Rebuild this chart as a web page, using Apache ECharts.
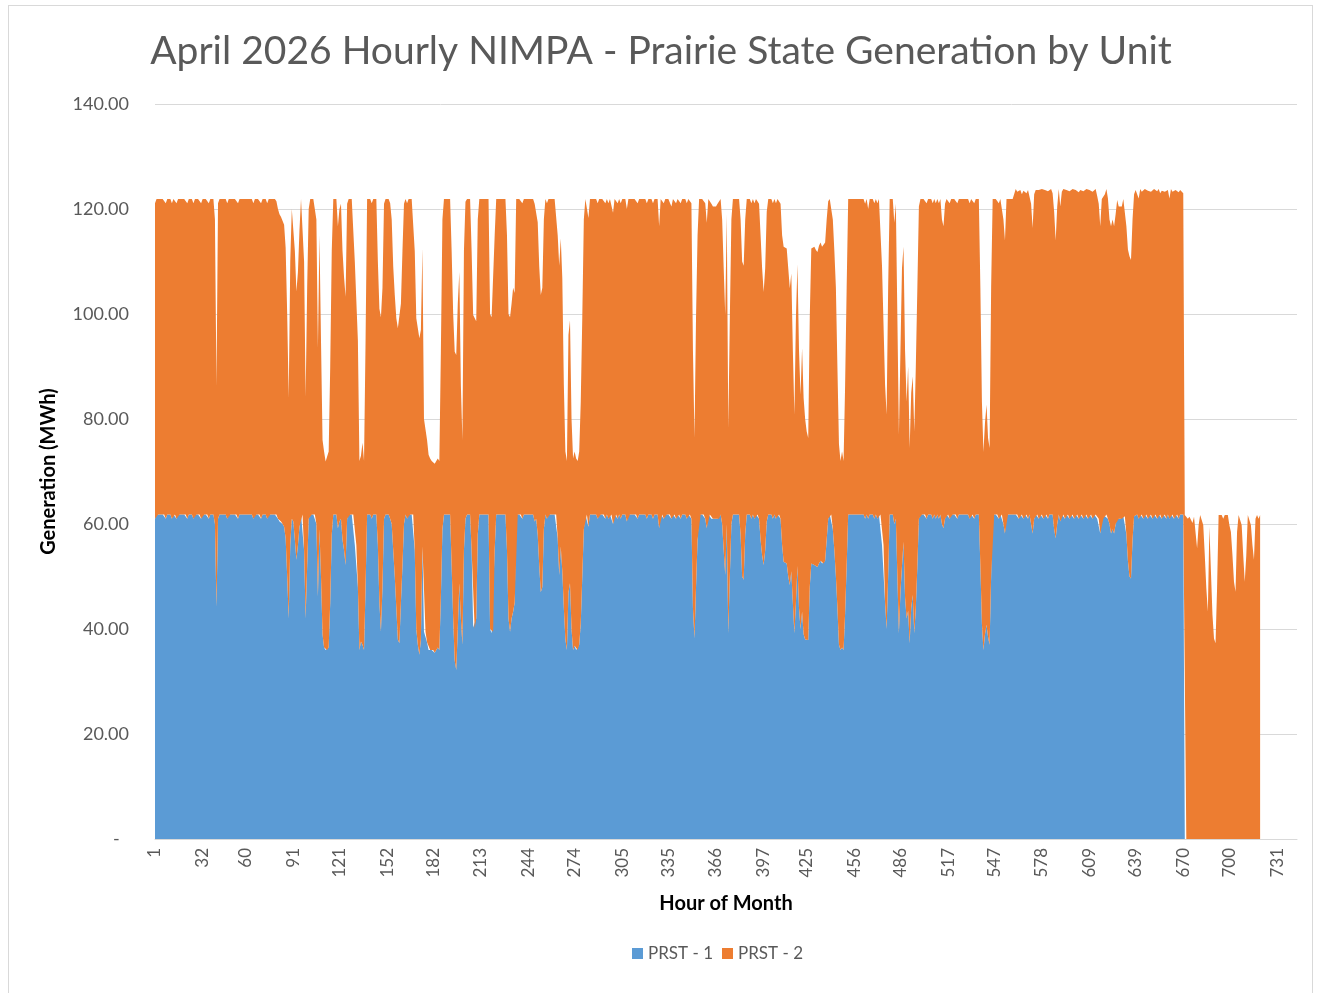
<!DOCTYPE html>
<html>
<head>
<meta charset="utf-8">
<title>April 2026 Hourly NIMPA - Prairie State Generation by Unit</title>
<script src="https://cdn.jsdelivr.net/npm/echarts/dist/echarts.min.js"></script>
<style>
html,body{margin:0;padding:0;background:#fff;}
#frame{position:absolute;left:8px;top:5px;width:1305px;height:995px;border:1px solid #d9d9d9;box-sizing:border-box;}
#main{position:absolute;left:0;top:0;width:1322px;height:993px;}
</style>
</head>
<body>
<div id="frame"></div>
<div id="main"></div>
<script>
// hourly generation, one row per day (24 h), hours 1-720
var prst1 = [
61.0,61.8,61.8,61.8,61.8,61.8,61.8,61.0,61.8,61.8,61.8,61.0,61.8,61.8,61.0,61.8,61.8,61.8,61.8,61.8,61.8,61.0,61.8,61.8,
61.8,61.0,61.8,61.8,61.8,61.8,61.0,61.8,61.8,61.8,61.8,61.0,61.8,61.8,61.8,60.0,44.2,61.0,61.8,61.8,61.8,61.8,61.8,61.0,
61.8,61.8,61.8,61.8,61.8,61.8,61.0,61.8,61.8,61.8,61.8,61.8,61.8,61.8,61.8,61.8,61.0,61.8,61.8,61.8,61.8,61.0,61.8,61.8,
61.8,61.0,61.8,61.8,61.8,61.8,61.8,61.8,61.0,60.5,60.5,60.0,59.5,57.3,50.0,42.0,56.0,61.0,60.5,57.0,53.2,56.0,59.5,61.8,
61.8,55.0,42.0,52.0,61.0,61.8,61.8,61.8,61.8,60.0,46.2,59.0,50.0,39.0,36.5,36.0,36.0,36.5,45.0,58.0,61.8,61.8,61.8,59.2,
60.5,61.0,57.0,55.0,52.2,61.0,61.8,61.8,61.8,61.8,56.0,56.0,48.0,36.0,37.6,37.0,36.0,48.0,61.8,61.8,61.8,61.0,61.8,61.8,
61.8,56.0,45.0,39.5,48.0,61.0,61.8,61.8,61.8,61.0,60.0,55.0,50.0,44.0,38.0,37.3,45.0,52.0,60.0,61.8,61.0,61.8,61.8,61.8,
61.8,55.0,40.0,37.0,35.1,38.0,55.7,39.5,39.5,37.5,36.0,36.0,36.0,36.0,35.5,36.0,36.5,36.0,46.0,59.0,61.8,61.8,61.8,61.8,
61.8,52.0,42.0,34.0,32.2,40.0,48.7,42.0,37.0,55.0,61.0,61.8,61.8,61.8,55.0,40.3,40.0,42.0,58.0,61.8,61.8,61.8,61.8,61.8,
61.8,61.8,40.0,39.2,39.5,55.0,61.8,61.8,61.8,61.8,61.8,61.8,61.8,55.0,42.0,39.5,42.0,43.3,45.0,61.8,61.8,61.8,61.8,61.0,
61.8,61.8,61.8,61.8,61.8,61.8,61.8,60.5,61.0,58.0,52.0,47.0,48.0,59.0,61.8,61.0,61.8,61.8,61.8,61.8,61.8,61.8,57.3,50.3,
55.7,51.0,44.0,38.0,36.0,47.0,48.7,40.0,36.0,36.8,36.0,36.0,37.0,41.0,50.0,59.0,61.8,61.8,59.5,61.8,61.8,61.8,61.8,61.8,
61.0,61.8,61.8,61.8,61.8,61.0,61.8,61.0,61.8,61.8,60.0,61.8,61.8,61.0,61.8,61.0,61.8,61.8,61.8,60.5,61.8,61.8,61.8,61.8,
61.8,61.8,61.0,61.8,61.8,61.8,61.8,61.8,61.0,61.8,61.8,61.8,61.0,61.8,61.8,61.8,59.2,61.8,61.8,61.0,61.8,61.8,61.8,61.8,
61.0,61.8,61.8,61.0,61.8,61.8,61.0,61.8,61.8,61.8,61.0,61.8,61.8,61.0,44.0,38.2,48.0,57.0,61.8,61.8,61.8,61.8,61.0,59.2,
61.8,61.8,61.0,61.0,61.0,61.0,61.0,61.0,61.8,60.0,55.0,50.3,60.0,39.2,50.0,60.0,61.8,61.8,61.8,61.8,61.8,58.0,50.0,49.4,
58.0,61.8,61.8,61.8,61.0,61.8,61.0,61.8,61.8,61.0,57.0,54.0,52.2,55.0,60.5,61.8,61.8,61.8,61.0,61.8,61.0,61.8,61.8,61.0,
56.0,52.8,52.8,52.5,50.0,48.4,51.0,45.0,39.2,45.0,52.0,44.0,40.0,43.3,39.0,38.0,38.0,37.9,48.0,52.5,52.5,52.2,52.0,51.8,
52.5,53.0,52.5,52.5,53.0,57.0,61.0,61.8,61.8,59.0,55.0,50.0,44.0,37.0,36.0,36.5,36.0,43.0,52.0,61.8,61.8,61.8,61.8,61.8,
61.8,61.8,61.8,61.8,61.8,61.8,61.0,61.8,61.0,61.8,61.8,61.8,61.0,61.8,61.0,61.8,61.8,56.0,56.0,45.0,40.0,50.0,61.8,61.8,
61.8,60.0,61.0,50.0,39.2,47.0,52.0,56.6,46.0,42.0,43.5,37.3,44.0,46.5,39.2,44.0,52.0,61.0,61.8,61.8,61.8,61.8,61.0,61.8,
61.8,61.8,61.0,61.8,61.0,61.8,61.0,61.8,60.0,59.2,61.0,61.8,61.8,61.0,61.8,61.8,61.8,61.8,61.0,61.8,61.8,61.8,61.8,61.8,
61.8,61.8,61.0,61.8,61.8,61.0,61.8,61.8,61.8,52.0,41.0,36.0,39.0,40.8,38.5,37.0,50.0,61.8,61.8,61.8,61.8,61.0,61.8,61.8,
60.0,58.2,61.8,61.8,61.8,61.8,61.8,61.8,61.8,61.8,61.0,61.8,61.8,61.0,61.8,61.8,61.0,61.8,60.0,58.2,61.0,61.8,61.8,61.0,
61.8,61.8,61.0,61.8,61.8,61.0,61.8,61.8,61.8,59.0,57.3,60.0,61.8,60.5,61.8,61.8,61.0,61.8,61.8,61.0,61.8,61.8,61.0,61.8,
61.8,61.0,61.8,61.8,61.0,61.8,61.8,61.0,61.8,61.8,61.0,61.8,61.8,61.0,61.0,58.2,61.0,61.0,61.5,61.8,61.0,60.0,58.2,59.0,
58.2,60.0,61.0,61.0,61.0,61.0,61.5,61.5,58.0,53.0,50.0,49.6,57.0,61.5,61.8,61.8,61.0,61.8,61.8,61.0,61.8,61.8,61.0,61.8,
61.8,61.0,61.8,61.8,61.0,61.8,61.8,61.0,61.8,61.8,61.0,61.8,61.0,61.8,61.8,61.0,61.8,61.8,61.0,61.8,61.8,61.8,0,0,
0,0,0,0,0,0,0,0,0,0,0,0,0,0,0,0,0,0,0,0,0,0,0,0,
0,0,0,0,0,0,0,0,0,0,0,0,0,0,0,0,0,0,0,0,0,0,0,0
];
var prst2 = [
60.1,60.1,60.1,60.1,60.1,60.1,60.1,60.1,60.1,60.1,60.1,60.1,60.1,60.1,60.1,60.1,60.1,60.1,60.1,60.1,60.1,60.1,60.1,60.1,
60.1,60.1,60.1,60.1,60.1,60.1,60.1,60.1,60.1,60.1,60.1,60.1,60.1,60.1,60.1,58.0,42.0,60.1,60.1,60.1,60.1,60.1,60.1,60.1,
60.1,60.1,60.1,60.1,60.1,60.1,60.1,60.1,60.1,60.1,60.1,60.1,60.1,60.1,60.1,60.1,60.1,60.1,60.1,60.1,60.1,60.1,60.1,60.1,
60.1,60.1,60.1,60.1,60.1,60.1,60.1,59.7,59.0,58.5,58.0,58.5,57.5,55.3,50.0,42.0,54.0,59.0,59.5,55.0,51.1,52.0,56.5,60.1,
60.1,55.0,42.2,53.0,59.0,60.1,60.1,60.1,60.1,58.0,47.3,56.0,45.0,37.0,37.3,35.9,36.0,37.3,45.0,54.0,60.1,60.1,60.1,57.5,
59.5,60.0,55.0,52.0,51.1,60.0,60.1,60.1,60.1,60.1,54.0,54.0,47.0,36.0,35.4,38.5,36.0,47.0,60.1,60.1,60.1,60.1,60.1,60.1,
60.1,54.0,56.0,59.9,57.0,60.0,60.1,60.1,60.1,60.1,58.0,54.0,53.6,55.2,59.3,60.2,57.0,60.0,61.0,60.1,60.1,60.1,60.1,60.1,
60.1,57.0,59.2,60.3,60.3,59.0,56.8,40.5,38.5,38.5,37.2,36.5,36.0,36.0,36.0,36.0,36.0,36.0,47.0,59.0,60.1,60.1,60.1,60.1,
60.1,60.0,58.0,58.8,60.0,62.0,59.3,44.5,39.0,57.0,60.4,60.1,60.1,60.1,57.0,59.5,59.8,56.6,60.0,60.1,60.1,60.1,60.1,60.1,
60.1,60.1,60.0,60.2,59.9,60.0,60.1,60.1,60.1,60.1,60.1,60.1,60.1,60.0,58.0,59.9,60.0,61.7,59.0,60.1,60.1,60.1,60.1,60.1,
60.1,60.1,60.1,60.1,60.1,60.1,60.1,60.5,60.1,59.5,57.0,56.6,57.0,59.0,60.1,60.1,60.1,60.1,60.1,60.1,60.1,60.1,57.7,58.9,
58.7,55.8,42.5,35.8,36.0,49.0,50.1,40.0,36.5,37.0,36.5,36.0,36.8,42.3,49.4,59.0,60.1,60.1,58.8,60.1,60.1,60.1,60.1,60.1,
60.1,60.1,60.1,60.1,60.1,60.1,60.1,60.1,60.1,60.1,59.3,60.1,60.1,60.1,60.1,60.1,60.1,60.1,60.1,59.5,60.1,60.1,60.1,60.1,
60.1,60.1,60.1,60.1,60.1,60.1,60.1,60.1,60.1,60.1,60.1,60.1,60.1,60.1,60.1,60.1,57.5,60.1,60.1,60.1,60.1,60.1,60.1,60.1,
59.5,60.1,60.1,60.1,60.1,60.1,60.1,60.1,60.1,60.1,60.1,60.1,60.1,60.1,49.0,38.2,51.4,58.0,60.1,60.1,60.1,60.1,60.1,58.2,
60.1,60.1,60.0,59.5,59.5,59.5,60.0,60.0,60.1,58.0,53.7,49.5,59.0,39.0,49.4,58.0,60.1,60.1,60.1,60.1,60.1,60.0,60.0,59.8,
60.0,60.1,60.1,60.1,60.1,60.1,60.1,60.1,60.1,60.0,58.0,54.7,52.0,53.7,59.0,60.1,60.1,60.1,60.1,60.1,60.1,60.1,60.1,60.0,
59.0,60.0,60.0,60.0,58.7,56.5,56.7,48.0,41.6,54.4,57.5,49.0,44.6,50.2,45.0,42.0,39.6,38.5,51.4,60.0,60.3,60.6,60.2,60.0,
60.5,60.6,60.3,60.3,60.6,61.0,60.5,60.1,60.1,59.0,57.0,55.0,45.7,38.2,36.0,37.3,36.0,43.5,53.0,60.1,60.1,60.1,60.1,60.1,
60.1,60.1,60.1,60.1,60.1,60.1,60.0,60.1,59.0,60.1,60.1,60.1,60.1,60.1,60.1,60.1,60.1,53.2,53.2,41.5,40.8,55.0,60.1,60.1,
60.1,57.4,60.0,49.4,37.8,46.0,56.7,56.2,47.0,41.3,46.5,37.2,41.0,41.6,38.4,46.0,53.0,59.5,60.1,60.1,60.1,60.1,60.1,60.1,
60.1,60.1,60.1,60.1,60.1,60.1,60.1,60.1,58.0,57.5,60.0,60.1,60.1,60.1,60.1,60.1,60.1,60.1,60.1,60.1,60.1,60.1,60.1,60.1,
60.1,60.1,60.1,60.1,60.1,60.1,60.1,60.1,60.1,53.0,42.3,37.7,40.3,41.9,37.9,37.5,55.0,60.1,60.1,60.1,60.1,60.1,60.1,60.1,
58.0,55.8,60.1,60.1,60.1,60.1,60.1,60.1,62.0,61.5,62.5,61.8,61.0,62.5,62.0,61.2,62.6,61.8,61.0,58.2,61.8,61.8,62.0,62.6,
61.5,62.0,62.6,61.8,62.0,62.4,61.8,62.0,61.2,60.5,56.7,60.5,62.0,60.0,61.5,62.0,62.5,61.8,62.0,62.4,61.8,62.0,62.5,61.8,
62.0,62.2,61.8,62.0,62.4,61.5,62.0,62.5,61.8,62.0,62.3,61.5,62.0,61.5,60.0,58.5,60.9,60.9,61.3,62.0,61.0,58.0,58.5,59.0,
58.5,59.0,60.7,59.5,59.8,59.5,60.4,60.4,58.7,59.3,61.0,60.7,61.0,61.3,61.8,62.0,61.0,62.0,61.5,62.4,62.0,61.8,62.5,62.0,
61.5,62.4,62.0,61.8,62.4,62.0,61.2,62.5,62.0,61.5,62.4,61.8,61.0,62.0,61.5,62.5,61.8,62.0,62.2,61.8,61.5,61.2,61.7,61.4,
61.0,61.4,60.8,60.2,61.4,61.7,55.4,59.8,61.7,61.7,59.8,54.1,47.8,43.3,59.5,51.0,42.7,38.2,37.3,47.8,61.7,61.4,61.7,61.0,
61.7,61.4,61.7,59.8,58.5,54.1,49.0,47.1,58.5,61.7,61.7,59.8,54.1,49.0,54.0,61.7,61.7,59.8,56.0,53.2,61.0,61.7,61.0,61.7
];
// x axis runs to hour 744, labels only at these hours
var tickLabels = [1,32,60,91,121,152,182,213,244,274,305,335,366,397,425,456,486,517,547,578,609,639,670,700,731];
var hours = [];
for (var i = 1; i <= 744; i++) {
    hours.push(String(i));
}

var myChart = echarts.init(document.getElementById('main'));
var grey = '#595959';
var option = {
    animation: false,
    title: {
        text: 'April 2026 Hourly NIMPA - Prairie State Generation by Unit',
        left: 'center',
        top: 27,
        textStyle: {
            fontFamily: 'Lato',
            fontWeight: 'normal',
            fontSize: 39,
            color: grey
        }
    },
    legend: {
        data: ['PRST - 1', 'PRST - 2'],
        left: 627,
        top: 940,
        icon: 'rect',
        itemWidth: 11,
        itemHeight: 11,
        itemGap: 9,
        textStyle: { fontFamily: 'Lato', fontSize: 17, color: grey }
    },
    grid: {
        left: 155,
        right: 25,
        top: 104,
        bottom: 154
    },
    xAxis: {
        type: 'category',
        data: hours,
        boundaryGap: false,
        name: 'Hour of Month',
        nameLocation: 'middle',
        nameGap: 55,
        nameTextStyle: { fontFamily: 'Lato', fontWeight: 'bold', fontSize: 20, color: '#000', verticalAlign: 'top' },
        axisLine: { lineStyle: { color: '#d9d9d9' } },
        axisTick: { show: false },
        axisLabel: {
            rotate: 90,
            margin: 9,
            fontFamily: 'Lato',
            fontSize: 17,
            color: grey,
            interval: function (index, value) {
                return tickLabels.indexOf(Number(value)) >= 0;
            }
        },
        splitLine: { show: false }
    },
    yAxis: {
        type: 'value',
        min: 0,
        max: 140,
        interval: 20,
        name: 'Generation (MWh)',
        nameLocation: 'middle',
        nameGap: 96,
        nameTextStyle: { fontFamily: 'Lato', fontWeight: 'bold', fontSize: 20, color: '#000' },
        axisLine: { show: false },
        axisTick: { show: false },
        axisLabel: {
            margin: 26,
            fontFamily: 'Lato',
            fontSize: 18,
            color: grey,
            formatter: function (v) {
                return v === 0 ? '-  ' : v.toFixed(2);
            }
        },
        splitLine: { lineStyle: { color: '#d9d9d9' } }
    },
    series: [{
        name: 'PRST - 1',
        type: 'line',
        stack: 'gen',
        data: prst1,
        symbol: 'none',
        lineStyle: { width: 0 },
        itemStyle: { color: '#5B9BD5' },
        areaStyle: { color: '#5B9BD5', opacity: 1 }
    }, {
        name: 'PRST - 2',
        type: 'line',
        stack: 'gen',
        data: prst2,
        symbol: 'none',
        lineStyle: { width: 0 },
        itemStyle: { color: '#ED7D31' },
        areaStyle: { color: '#ED7D31', opacity: 1 }
    }]
};
myChart.setOption(option);
</script>
</body>
</html>
